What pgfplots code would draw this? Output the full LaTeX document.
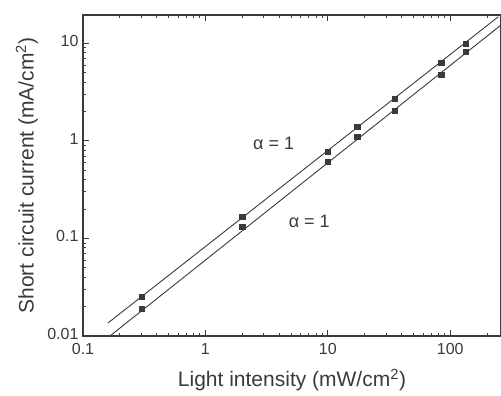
\documentclass[border=0pt]{standalone}
\usepackage{fontspec}
\setmainfont{Liberation Sans}
\usepackage{pgfplots}
\pgfplotsset{compat=1.18}
\definecolor{ink}{HTML}{3A3A3A}
\begin{document}
\begin{tikzpicture}
\begin{axis}[name=ax, scale only axis, width=418pt, height=321pt,
  xmode=log, ymode=log, xmin=0.1, xmax=260, ymin=0.01, ymax=19.5,
  axis line style={ink, line width=1.2pt},
  tick style={ink, line width=0.8pt},
  tick align=inside,
  major tick length=6pt, minor tick length=3.5pt,
  xtick pos=both, ytick pos=left,
  xtick={0.1,1,10,100}, xticklabels={0.1,1,10,100},
  ytick={0.01,0.1,1,10}, yticklabels={0.01,0.1,1,10},
  minor xtick={0.2,0.3,0.4,0.5,0.6,0.7,0.8,0.9,2,3,4,5,6,7,8,9,20,30,40,50,60,70,80,90,200},
  minor ytick={0.02,0.03,0.04,0.05,0.06,0.07,0.08,0.09,0.2,0.3,0.4,0.5,0.6,0.7,0.8,0.9,2,3,4,5,6,7,8,9},
  /pgf/number format/assume math mode=true,
  ticklabel style={font=\fontsize{16}{16}\selectfont, text=ink},
  xticklabel style={yshift=-4pt},
  yticklabel style={xshift=-1pt, yshift=2pt},
  xlabel={Light intensity (mW/cm\textsuperscript{2})},
  ylabel={Short circuit current (mA/cm\textsuperscript{2})},
  label style={font=\fontsize{21}{21}\selectfont, text=ink},
  xlabel style={at={(axis description cs:0.5,-0.137)}, anchor=center},
  ylabel style={at={(axis description cs:-0.134,0.5)}, anchor=center},
  clip=true,
]
% fitted lines
\addplot[ink, line width=0.9pt] coordinates {(0.160,0.0136) (247,18.7)};
\addplot[ink, line width=0.9pt] coordinates {(0.166,0.010) (262,15.5)};
% data
\addplot[only marks, mark=square*, mark size=2.6pt, ink] coordinates {
 (0.3,0.0251) (2,0.166) (10,0.771) (17.4,1.39) (35,2.70) (84.5,6.31) (133,9.9)};
\addplot[only marks, mark=square*, mark size=2.6pt, ink] coordinates {
 (0.3,0.0189) (2,0.131) (10,0.609) (17.4,1.10) (35,2.03) (84.5,4.75) (133,8.18)};
\node[anchor=west, text=ink, font=\fontsize{18}{18}\selectfont] at (axis cs:2.3,0.953) {α = 1};
\node[anchor=west, text=ink, font=\fontsize{18}{18}\selectfont] at (axis cs:4.49,0.148) {α = 1};
\end{axis}
\pgfresetboundingbox
\path ([xshift=-83pt,yshift=-59pt]ax.south west) rectangle ([yshift=15pt]ax.north east);
\end{tikzpicture}
\end{document}
